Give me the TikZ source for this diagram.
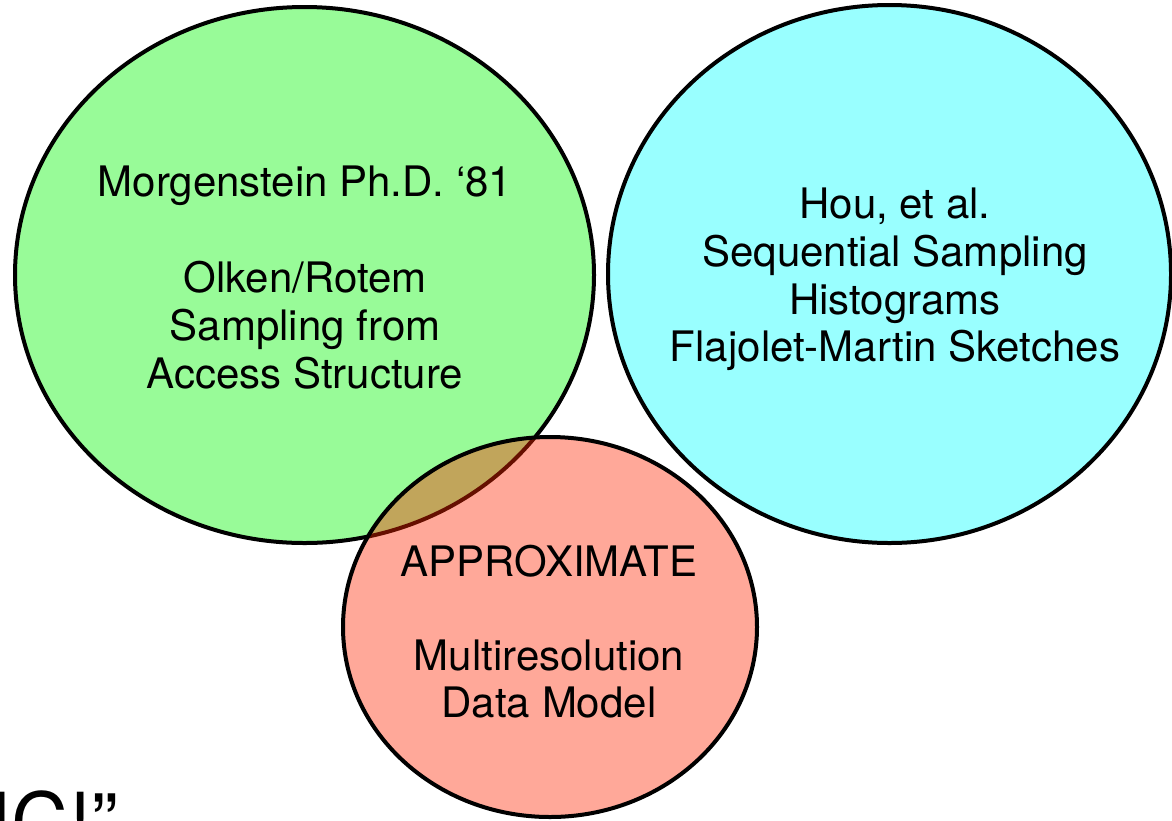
\documentclass[tikz,border=0pt]{standalone}
\usepackage{fontspec}
\setmainfont{TeX Gyre Heros}
\definecolor{setgreen}{RGB}{152,251,152}
\definecolor{setcyan}{RGB}{153,255,255}
\definecolor{setred}{RGB}{255,38,0}
\begin{document}
\begin{tikzpicture}[x=1pt,y=-1pt,
  setline/.style={line width=4pt,draw=black},
  label/.style={anchor=base,inner sep=0pt,font=\fontsize{42}{48}\selectfont}]
\useasboundingbox (0,0) rectangle (1172,820);
\clip (0,0) rectangle (1172,820);
\fill[white] (0,0) rectangle (1172,820);

% the three sets
\coordinate (gc) at (304.5,275);
\coordinate (cc) at (889.5,274);
\coordinate (rc) at (550,627);
\filldraw[setline,fill=setcyan] (cc) ellipse [x radius=281.5,y radius=269];
\filldraw[setline,fill=setgreen] (gc) ellipse [x radius=289.5,y radius=268];
\filldraw[setline,fill=setred,fill opacity=0.4] (rc) ellipse [x radius=207,y radius=190];

% left set
\node[label] (g1) at (305,196) {Morgenstein Ph.D. ‘81};
\node[label] (g2) at (305,292) {Olken/Rotem};
\node[label] (g3) at (305,340) {Sampling from};
\node[label] (g4) at (305,388) {Access Structure};

% right set
\node[label] (c1) at (895,218.5) {Hou, et al.};
\node[label] (c2) at (895,266) {Sequential Sampling};
\node[label] (c3) at (895,314) {Histograms};
\node[label] (c4) at (895,361.5) {Flajolet-Martin Sketches};

% bottom set
\node[label] (r1) at (549,576) {APPROXIMATE};
\node[label] (r2) at (549,670) {Multiresolution};
\node[label] (r3) at (549,717) {Data Model};

% large caption running off the lower edge
\node[anchor=base west,inner sep=0pt,font=\fontsize{80}{90}\selectfont] (cap) at (-11,850) {IC!”};
\end{tikzpicture}
\end{document}
